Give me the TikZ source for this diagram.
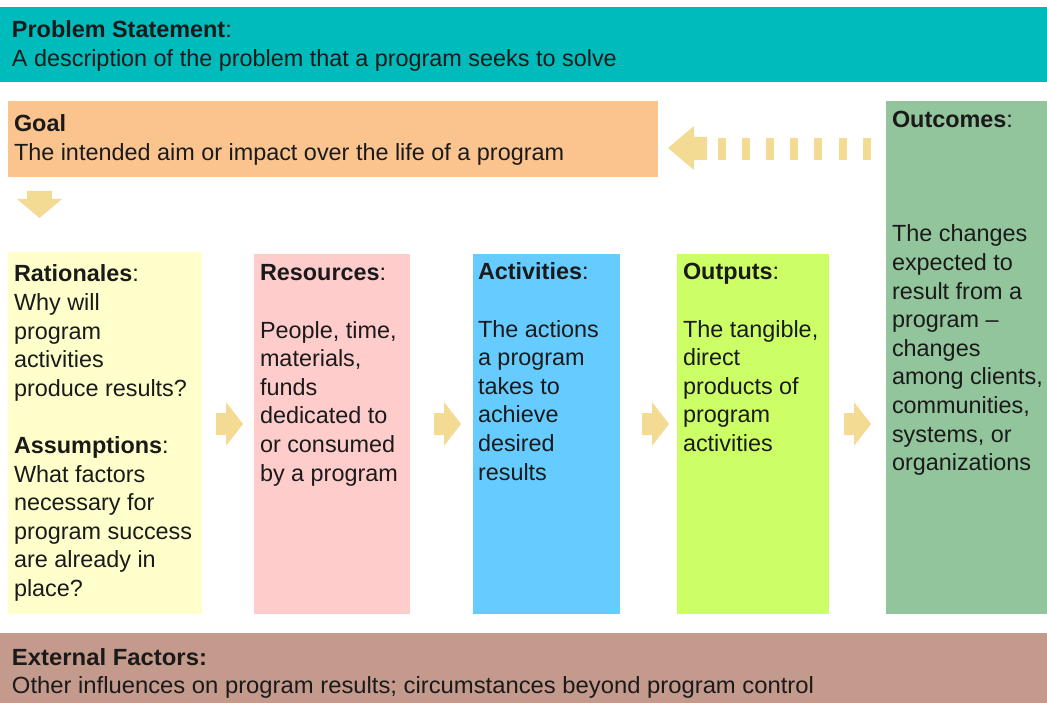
\documentclass[tikz,border=0pt]{standalone}
\usepackage{fontspec}
\setmainfont{Liberation Sans}
\usepackage{graphicx}
\definecolor{probc}{HTML}{00BBBB}
\definecolor{goalc}{HTML}{FBC48F}
\definecolor{outcc}{HTML}{93C59C}
\definecolor{ratc}{HTML}{FFFFCC}
\definecolor{resc}{HTML}{FFCCCC}
\definecolor{actc}{HTML}{66CCFF}
\definecolor{outpc}{HTML}{CCFF66}
\definecolor{extc}{HTML}{C49A8D}
\definecolor{arrc}{HTML}{F3DB94}
\definecolor{textc}{HTML}{1A1A1A}
\newcommand{\txtlines}[2]{\parbox[t]{#1}{\raggedright #2}}
\begin{document}
\begin{tikzpicture}[x=1pt,y=-1pt,
  font=\fontsize{23.4}{28.6}\selectfont,
  box/.style={draw=none, inner sep=0, outer sep=0, anchor=north west},
  txt/.style={anchor=base west, inner sep=0, outer sep=0, text=textc},
  rarr/.pic={\fill[arrc] (-13,-11) -- (-3,-11) -- (-3,-22) -- (14,0) -- (-3,22) -- (-3,11) -- (-13,11) -- cycle;}
]
\useasboundingbox (0,0) rectangle (1047,703);
% boxes
\node[box, fill=probc, minimum width=1047pt, minimum height=75pt] (prob) at (0,7) {};
\node[box, fill=goalc, minimum width=650pt, minimum height=76pt] (goal) at (8,101) {};
\node[box, fill=outcc, minimum width=161pt, minimum height=513pt] (outc) at (886,101) {};
\node[box, fill=ratc, minimum width=194pt, minimum height=362pt] (rat) at (8,252) {};
\node[box, fill=resc, minimum width=156pt, minimum height=360pt] (res) at (254,254) {};
\node[box, fill=actc, minimum width=147pt, minimum height=360pt] (act) at (473,254) {};
\node[box, fill=outpc, minimum width=152pt, minimum height=360pt] (outp) at (677,254) {};
\node[box, fill=extc, minimum width=1047pt, minimum height=70pt] (ext) at (0,633) {};
% texts
\node[txt] (probt) at (12,38) {\txtlines{900pt}{\textbf{Problem Statement}:\\A description of the problem that a program seeks to solve}};
\node[txt] (goalt) at (14,132) {\txtlines{640pt}{\textbf{Goal}\\The intended aim or impact over the life of a program}};
\node[txt] (outch) at (892,128) {\textbf{Outcomes}:};
\node[txt] (outct) at (892,242) {\txtlines{160pt}{The changes\\expected to\\result from a\\program --\\changes\\among clients,\\communities,\\systems, or\\organizations}};
\node[txt] (ratt) at (14,282) {\txtlines{190pt}{\textbf{Rationales}:\\Why will\\program\\activities\\produce results?\\[28.6pt]\textbf{Assumptions}:\\What factors\\necessary for\\program success\\are already in\\place?}};
\node[txt] (rest) at (260,281) {\txtlines{150pt}{\textbf{Resources}:\\[28.6pt]People, time,\\materials,\\funds\\dedicated to\\or consumed\\by a program}};
\node[txt] (actt) at (478,280) {\txtlines{140pt}{\textbf{Activities}:\\[28.6pt]The actions\\a program\\takes to\\achieve\\desired\\results}};
\node[txt] (outpt) at (683,280) {\txtlines{145pt}{\textbf{Outputs}:\\[28.6pt]The tangible,\\direct\\products of\\program\\activities}};
\node[txt] (extt) at (12,665) {\txtlines{1030pt}{\resizebox{195pt}{\height}{\textbf{External Factors:}}\\\resizebox{802pt}{\height}{Other influences on program results; circumstances beyond program control}}};
% arrows
\pic at (229,424) {rarr};
\pic at (447,424) {rarr};
\pic at (655,424) {rarr};
\pic at (857,424) {rarr};
\fill[arrc] (17,199) -- (27,199) -- (27,191) -- (52,191) -- (52,199) -- (62,199) -- (39.5,218) -- cycle;
\fill[arrc] (668,148) -- (694,126) -- (694,137) -- (707,137) -- (707,160) -- (694,160) -- (694,170) -- cycle;
\foreach \i in {0,...,6} {
  \fill[arrc] ({718+24.1*\i},138) rectangle ({726+24.1*\i},160);
}
\end{tikzpicture}
\end{document}
